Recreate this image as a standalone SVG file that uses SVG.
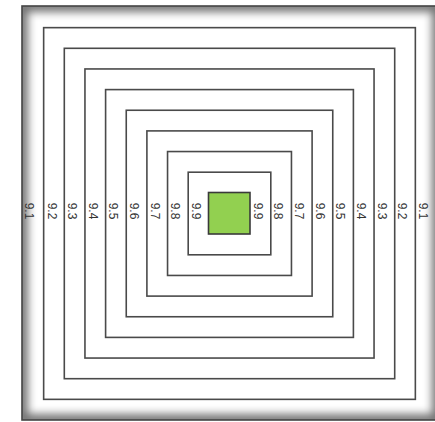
<svg xmlns="http://www.w3.org/2000/svg" width="435" height="422" viewBox="0 0 435 422">
<style>
.sq{fill:none;stroke:#4a4a4a;stroke-width:1.6}
.lbl{font-family:"Liberation Sans",Arial,sans-serif;font-size:12px;fill:#333;text-anchor:middle}
</style>
<defs>
<clipPath id="fc"><rect x="22" y="6" width="416" height="414"/></clipPath>
<filter id="blur" x="-10%" y="-10%" width="120%" height="120%"><feGaussianBlur stdDeviation="4"/></filter>
</defs>
<rect width="435" height="422" fill="#fff"/>
<g id="frame">
<rect x="22" y="6" width="416" height="414" fill="#fff"/>
<g clip-path="url(#fc)">
<rect x="22" y="6" width="416" height="414" fill="none" stroke="#000" stroke-opacity="0.55" stroke-width="12" filter="url(#blur)"/>
</g>
<rect x="22" y="6" width="416" height="414" fill="none" stroke="#444" stroke-width="1.6"/>
</g>
<g id="squares">
<rect id="sq1" class="sq" x="43.65" y="27.65" width="371.7" height="371.7"/>
<rect id="sq2" class="sq" x="64.3" y="48.3" width="330.4" height="330.4"/>
<rect id="sq3" class="sq" x="84.95" y="68.95" width="289.1" height="289.1"/>
<rect id="sq4" class="sq" x="105.6" y="89.6" width="247.8" height="247.8"/>
<rect id="sq5" class="sq" x="126.25" y="110.25" width="206.5" height="206.5"/>
<rect id="sq6" class="sq" x="146.9" y="130.9" width="165.2" height="165.2"/>
<rect id="sq7" class="sq" x="167.55" y="151.55" width="123.9" height="123.9"/>
<rect id="sq8" class="sq" x="188.2" y="172.2" width="82.6" height="82.6"/>
<rect id="center" x="208.5" y="192.5" width="41.5" height="41.5" fill="#92d050" stroke="#3a3a3a" stroke-width="1.6"/>
</g>
<g id="labels">
<text class="lbl" transform="translate(24.5,211) rotate(90)">9.1</text>
<text class="lbl" transform="translate(47.5,211) rotate(90)">9.2</text>
<text class="lbl" transform="translate(68,211) rotate(90)">9.3</text>
<text class="lbl" transform="translate(88.5,211) rotate(90)">9.4</text>
<text class="lbl" transform="translate(109,211) rotate(90)">9.5</text>
<text class="lbl" transform="translate(130,211) rotate(90)">9.6</text>
<text class="lbl" transform="translate(150.5,211) rotate(90)">9.7</text>
<text class="lbl" transform="translate(171,211) rotate(90)">9.8</text>
<text class="lbl" transform="translate(191.5,211) rotate(90)">9.9</text>
<text class="lbl" transform="translate(253.5,211) rotate(90)">9.9</text>
<text class="lbl" transform="translate(274,211) rotate(90)">9.8</text>
<text class="lbl" transform="translate(295,211) rotate(90)">9.7</text>
<text class="lbl" transform="translate(315.5,211) rotate(90)">9.6</text>
<text class="lbl" transform="translate(336,211) rotate(90)">9.5</text>
<text class="lbl" transform="translate(356.5,211) rotate(90)">9.4</text>
<text class="lbl" transform="translate(377.5,211) rotate(90)">9.3</text>
<text class="lbl" transform="translate(398,211) rotate(90)">9.2</text>
<text class="lbl" transform="translate(418.5,211) rotate(90)">9.1</text>
</g>
</svg>
